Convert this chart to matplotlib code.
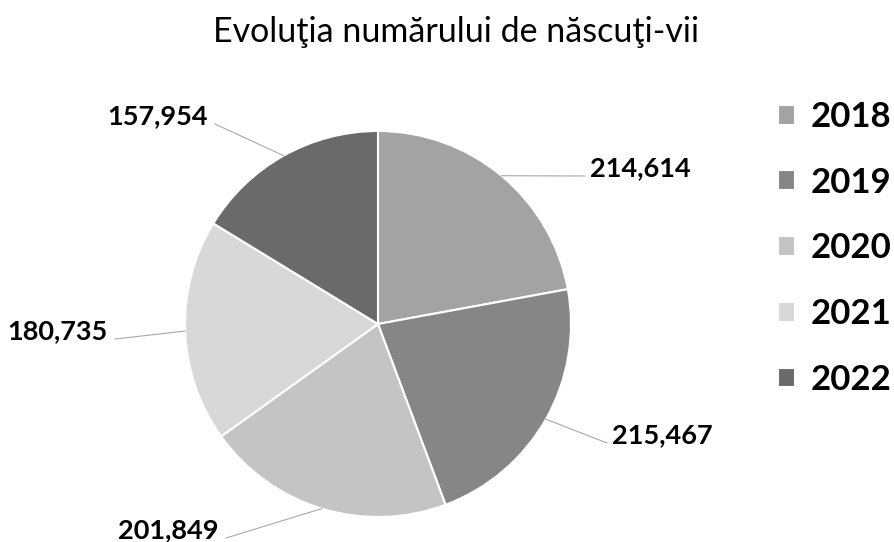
import numpy as np
import matplotlib
matplotlib.use("Agg")
import matplotlib.pyplot as plt

plt.rcParams["font.family"] = ["Lato", "DejaVu Sans"]

# Data
years = ["2018", "2019", "2020", "2021", "2022"]
births = [214614, 215467, 201849, 180735, 157954]
colors = ["#a3a3a3", "#868686", "#c4c4c4", "#d8d8d8", "#6a6a6a"]

# Label anchor points in pixel coords (x, y from top), end of leader line
label_ends = [(585, 176), (607, 443), (226, 538), (115, 339), (215, 124)]
label_sides = ["left", "left", "right", "right", "right"]

W, H = 895, 542
fig = plt.figure(figsize=(W / 100, H / 100), dpi=100)
ax = fig.add_axes([0, 0, 1, 1])

cx, cy, r = 378, H - 324, 193
wedges, _ = ax.pie(
    births,
    colors=colors,
    startangle=90,
    counterclock=False,
    center=(cx, cy),
    radius=r,
    wedgeprops=dict(edgecolor="white", linewidth=1.5),
)
ax.set_xlim(0, W)
ax.set_ylim(0, H)
ax.set_aspect("equal")
ax.axis("off")

# Data labels with leader lines
for w, val, (lx, ly), side in zip(wedges, births, label_ends, label_sides):
    mid = np.deg2rad((w.theta1 + w.theta2) / 2)
    px, py = cx + r * np.cos(mid), cy + r * np.sin(mid)
    ax.plot([px, lx], [py, H - ly], color="#a8a8a8", lw=0.8)
    tx = lx + 5 if side == "left" else lx - 7
    ax.text(tx, H - ly, f"{val:,}", ha=side, va="baseline",
            fontsize=19.5, fontweight="bold", color="black")

fig.text(456 / W, 1 - 42 / H, "Evoluţia numărului de născuţi-vii",
         ha="center", va="baseline", fontsize=24.5, color="black")

ax.legend(wedges, years, loc="upper left", bbox_to_anchor=(778 / W, 1 - 101 / H),
          bbox_transform=fig.transFigure, frameon=False, borderaxespad=0, borderpad=0,
          prop=dict(size=25, weight="bold"), handlelength=0.5, handleheight=0.5,
          handletextpad=0.45, labelspacing=0.97)

fig.savefig("out.png", dpi=100)
